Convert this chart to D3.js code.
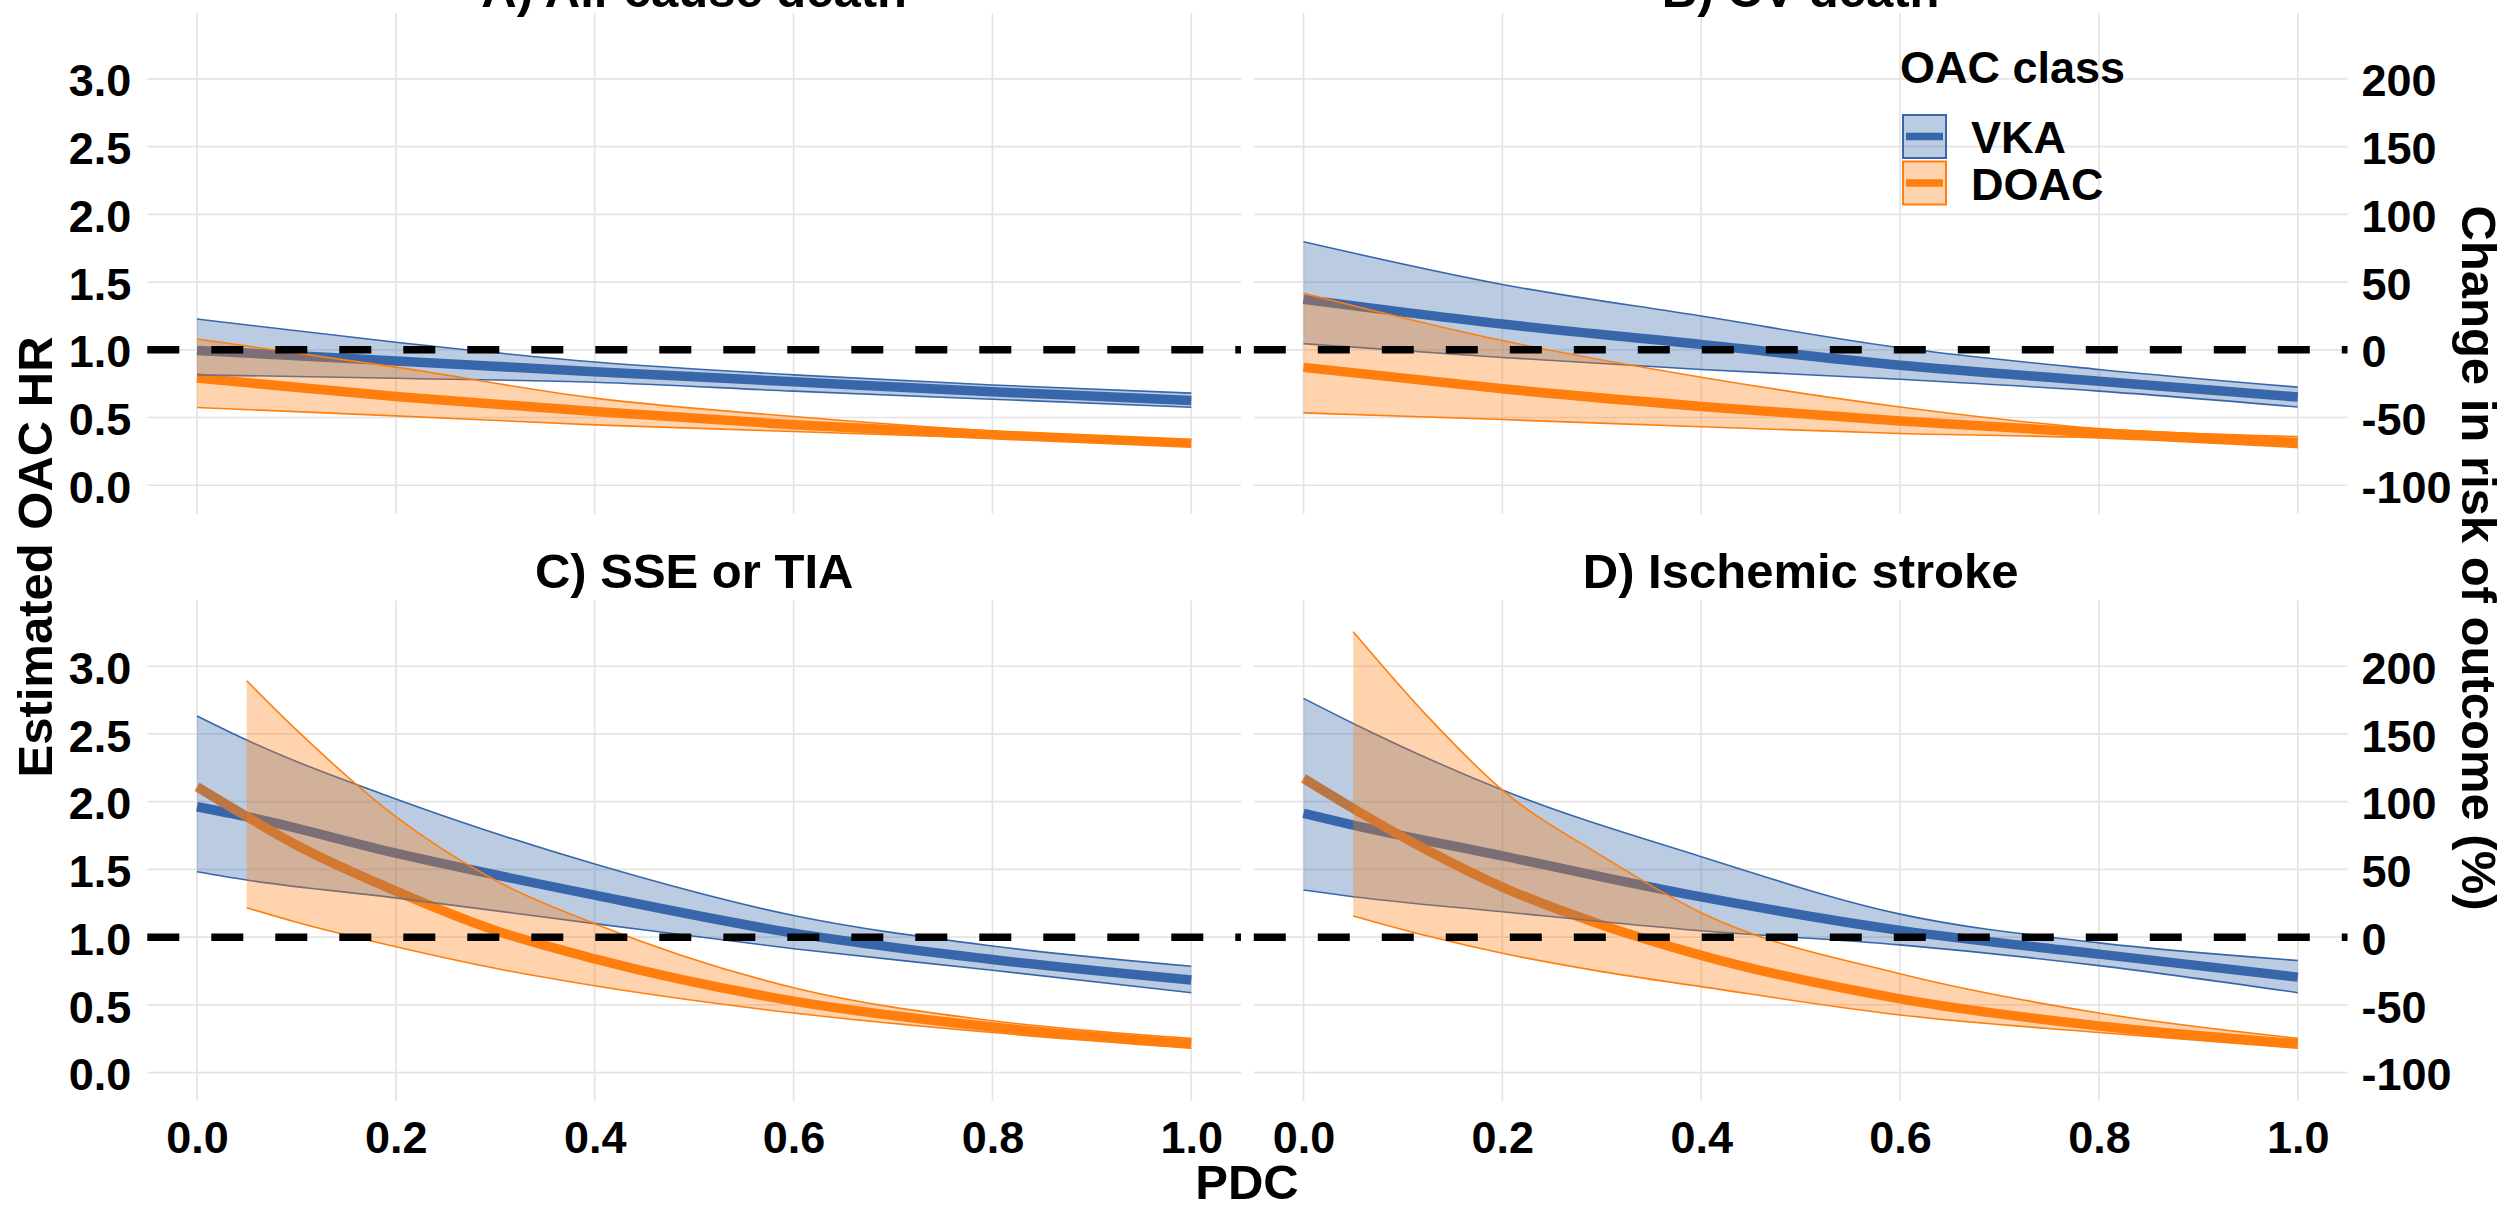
<!DOCTYPE html>
<html><head><meta charset="utf-8">
<script src="https://cdn.jsdelivr.net/npm/d3@7"></script>
<style>html,body{margin:0;padding:0;background:#fff;overflow:hidden}</style>
</head><body>
<svg id="chart" width="2505" height="1211"></svg>
<script>
// ---------------- data ----------------
const facetTitles = ["A) All-cause death", "B) CV death", "C) SSE or TIA", "D) Ischemic stroke"];
const classes = ["VKA", "DOAC"];
const pdcTicks = [0, 0.2, 0.4, 0.6, 0.8, 1.0];
const hrTicks = [0, 0.5, 1.0, 1.5, 2.0, 2.5, 3.0];
const pctTickLabels = ["-100", "-50", "0", "50", "100", "150", "200"];
const referenceHR = 1.0;

// A) All-cause death
const pdcA = [0, 0.2, 0.4, 0.6, 0.8, 1.0];
const vkaEstA = [0.995, 0.918, 0.838, 0.764, 0.690, 0.626];
const vkaLoA  = [0.815, 0.790, 0.760, 0.695, 0.635, 0.576];
const vkaHiA  = [1.227, 1.055, 0.910, 0.815, 0.740, 0.680];
const doacEstA = [0.791, 0.655, 0.544, 0.446, 0.372, 0.310];
const doacLoA  = [0.574, 0.512, 0.446, 0.397, 0.347, 0.286];
const doacHiA  = [1.080, 0.872, 0.643, 0.507, 0.400, 0.336];

// B) CV death
const pdcB = [0, 0.2, 0.4, 0.6, 0.8, 1.0];
const vkaEstB = [1.372, 1.190, 1.040, 0.886, 0.768, 0.651];
const vkaLoB  = [1.045, 0.943, 0.855, 0.782, 0.695, 0.578];
const vkaHiB  = [1.797, 1.482, 1.249, 1.015, 0.855, 0.724];
const doacEstB = [0.870, 0.712, 0.582, 0.474, 0.386, 0.315];
const doacLoB  = [0.534, 0.485, 0.432, 0.382, 0.350, 0.278];
const doacHiB  = [1.418, 1.068, 0.797, 0.578, 0.418, 0.360];

// C) SSE or TIA
const pdcVkaC = [0, 0.05, 0.2, 0.4, 0.6, 0.8, 1.0];
const vkaEstC = [1.963, 1.890, 1.620, 1.310, 1.030, 0.835, 0.684];
const vkaLoC  = [1.483, 1.422, 1.290, 1.100, 0.915, 0.756, 0.590];
const vkaHiC  = [2.633, 2.455, 2.020, 1.540, 1.160, 0.935, 0.785];
const pdcDoacLineC = [0, 0.05, 0.1, 0.2, 0.3, 0.4, 0.6, 0.8, 1.0];
const doacEstC = [2.110, 1.890, 1.680, 1.340, 1.050, 0.840, 0.528, 0.337, 0.213];
const pdcDoacBandC = [0.05, 0.1, 0.2, 0.3, 0.4, 0.6, 0.8, 1.0];
const doacLoC = [1.217, 1.110, 0.929, 0.770, 0.641, 0.440, 0.296, 0.181];
const doacHiC = [2.893, 2.530, 1.890, 1.420, 1.100, 0.627, 0.383, 0.253];

// D) Ischemic stroke
const pdcVkaD = [0, 0.05, 0.2, 0.4, 0.6, 0.8, 1.0];
const vkaEstD = [1.914, 1.828, 1.600, 1.297, 1.050, 0.875, 0.705];
const vkaLoD  = [1.348, 1.299, 1.188, 1.047, 0.943, 0.790, 0.590];
const vkaHiD  = [2.763, 2.578, 2.086, 1.594, 1.170, 0.958, 0.828];
const pdcDoacLineD = [0, 0.05, 0.125, 0.2, 0.3, 0.4, 0.6, 0.8, 1.0];
const doacEstD = [2.172, 1.950, 1.640, 1.370, 1.090, 0.866, 0.545, 0.345, 0.214];
const pdcDoacBandD = [0.05, 0.125, 0.2, 0.3, 0.4, 0.6, 0.8, 1.0];
const doacLoD = [1.157, 1.008, 0.881, 0.746, 0.635, 0.426, 0.296, 0.181];
const doacHiD = [3.255, 2.628, 2.086, 1.600, 1.180, 0.730, 0.440, 0.253];

// ---------------- build ----------------
function band(pdc, lo, hi) { return pdc.map((p, i) => ({p, lo: lo[i], hi: hi[i]})); }
function line(pdc, est) { return pdc.map((p, i) => ({p, v: est[i]})); }

const facets = [
  {title: facetTitles[0], col: 0, row: 0,
   series: [
     {cls: "VKA", line: line(pdcA, vkaEstA), band: band(pdcA, vkaLoA, vkaHiA)},
     {cls: "DOAC", line: line(pdcA, doacEstA), band: band(pdcA, doacLoA, doacHiA)}]},
  {title: facetTitles[1], col: 1, row: 0,
   series: [
     {cls: "VKA", line: line(pdcB, vkaEstB), band: band(pdcB, vkaLoB, vkaHiB)},
     {cls: "DOAC", line: line(pdcB, doacEstB), band: band(pdcB, doacLoB, doacHiB)}]},
  {title: facetTitles[2], col: 0, row: 1,
   series: [
     {cls: "VKA", line: line(pdcVkaC, vkaEstC), band: band(pdcVkaC, vkaLoC, vkaHiC)},
     {cls: "DOAC", line: line(pdcDoacLineC, doacEstC), band: band(pdcDoacBandC, doacLoC, doacHiC)}]},
  {title: facetTitles[3], col: 1, row: 1,
   series: [
     {cls: "VKA", line: line(pdcVkaD, vkaEstD), band: band(pdcVkaD, vkaLoD, vkaHiD)},
     {cls: "DOAC", line: line(pdcDoacLineD, doacEstD), band: band(pdcDoacBandD, doacLoD, doacHiD)}]}
];

const color = d3.scaleOrdinal().domain(classes).range(["#3767AB", "#FF7F0E"]);
const FILL_ALPHA = 0.34;
const FONT = "'Liberation Sans', Arial, Helvetica, sans-serif";

const colRanges = [[147.3, 1241.0], [1253.8, 2347.5]];
const rowRanges = [[513.7, 13.0], [1101.1, 600.4]];
const xDomain = [-0.05, 1.05];
const yDomain = [-0.21, 3.486];

const svg = d3.select("#chart");
svg.append("rect").attr("width", 2505).attr("height", 1211).attr("fill", "#fff");

facets.forEach(f => {
  const x = d3.scaleLinear().domain(xDomain).range(colRanges[f.col]);
  const y = d3.scaleLinear().domain(yDomain).range(rowRanges[f.row]);
  const g = svg.append("g");
  const [x0, x1] = colRanges[f.col];
  const [yb, yt] = rowRanges[f.row];

  // grid
  g.selectAll(".hg").data(hrTicks).join("line")
    .attr("x1", x0).attr("x2", x1).attr("y1", d => y(d)).attr("y2", d => y(d))
    .attr("stroke", "#e4e4e4").attr("stroke-width", 1.7);
  g.selectAll(".vg").data(pdcTicks).join("line")
    .attr("x1", d => x(d)).attr("x2", d => x(d)).attr("y1", yb).attr("y2", yt)
    .attr("stroke", "#e4e4e4").attr("stroke-width", 1.7);

  const lineGen = d3.line().x(d => x(d.p)).y(d => y(d.v)).curve(d3.curveMonotoneX);
  const areaGen = d3.area().x(d => x(d.p)).y0(d => y(d.lo)).y1(d => y(d.hi)).curve(d3.curveMonotoneX);
  const loGen = d3.line().x(d => x(d.p)).y(d => y(d.lo)).curve(d3.curveMonotoneX);
  const hiGen = d3.line().x(d => x(d.p)).y(d => y(d.hi)).curve(d3.curveMonotoneX);

  // estimate lines first
  f.series.forEach(s => {
    g.append("path").attr("d", lineGen(s.line)).attr("fill", "none")
      .attr("stroke", color(s.cls)).attr("stroke-width", 9.5).attr("stroke-linejoin", "round");
  });
  // ribbons on top (semi-transparent) with outline
  f.series.forEach(s => {
    g.append("path").attr("d", areaGen(s.band)).attr("fill", color(s.cls)).attr("fill-opacity", FILL_ALPHA);
    g.append("path").attr("d", loGen(s.band)).attr("fill", "none").attr("stroke", color(s.cls)).attr("stroke-width", 1.6);
    g.append("path").attr("d", hiGen(s.band)).attr("fill", "none").attr("stroke", color(s.cls)).attr("stroke-width", 1.6);
  });
  // reference line
  g.append("line").attr("x1", x0).attr("x2", x1).attr("y1", y(referenceHR)).attr("y2", y(referenceHR))
    .attr("stroke", "#000").attr("stroke-width", 7.5).attr("stroke-dasharray", "32,32");

  // facet title
  svg.append("text").attr("x", (x0 + x1) / 2).attr("y", f.row === 0 ? 7 : 588)
    .attr("text-anchor", "middle").attr("font-family", FONT).attr("font-weight", "bold")
    .attr("font-size", 49).attr("fill", "#000").text(f.title);

  // axes
  if (f.col === 0) {
    const ax = svg.append("g").attr("transform", `translate(${x0},0)`)
      .call(d3.axisLeft(y).tickValues(hrTicks).tickFormat(d3.format(".1f")).tickSize(0).tickPadding(16));
    ax.select(".domain").remove();
    ax.selectAll("text").attr("font-family", FONT).attr("font-weight", "bold").attr("font-size", 45)
      .attr("fill", "#000").attr("dy", "0.38em");
  }
  if (f.col === 1) {
    const ax = svg.append("g").attr("transform", `translate(${x1},0)`)
      .call(d3.axisRight(y).tickValues(hrTicks).tickFormat((d, i) => pctTickLabels[i]).tickSize(0).tickPadding(14));
    ax.select(".domain").remove();
    ax.selectAll("text").attr("font-family", FONT).attr("font-weight", "bold").attr("font-size", 45)
      .attr("fill", "#000").attr("dy", "0.38em");
  }
  if (f.row === 1) {
    const ax = svg.append("g").attr("transform", `translate(0,${yb})`)
      .call(d3.axisBottom(x).tickValues(pdcTicks).tickFormat(d3.format(".1f")).tickSize(0).tickPadding(20));
    ax.select(".domain").remove();
    ax.selectAll("text").attr("font-family", FONT).attr("font-weight", "bold").attr("font-size", 45)
      .attr("fill", "#000").attr("dy", "0.71em");
  }
});

// axis titles
svg.append("text").attr("transform", "translate(52,557) rotate(-90)").attr("text-anchor", "middle")
  .attr("font-family", FONT).attr("font-weight", "bold").attr("font-size", 49).text("Estimated OAC HR");
svg.append("text").attr("transform", "translate(2462,558) rotate(90)").attr("text-anchor", "middle")
  .attr("font-family", FONT).attr("font-weight", "bold").attr("font-size", 49).text("Change in risk of outcome (%)");
svg.append("text").attr("x", 1247).attr("y", 1199).attr("text-anchor", "middle")
  .attr("font-family", FONT).attr("font-weight", "bold").attr("font-size", 49).text("PDC");

// legend
const leg = svg.append("g");
leg.append("text").attr("x", 1900).attr("y", 83).attr("font-family", FONT).attr("font-weight", "bold")
  .attr("font-size", 45).text("OAC class");
classes.forEach((c, i) => {
  const ky = 114 + i * 46.5;
  leg.append("rect").attr("x", 1903).attr("y", ky + 1).attr("width", 43).attr("height", 43)
    .attr("fill", color(c)).attr("fill-opacity", FILL_ALPHA).attr("stroke", color(c)).attr("stroke-width", 2);
  leg.append("line").attr("x1", 1906).attr("x2", 1943).attr("y1", ky + 22.5).attr("y2", ky + 22.5)
    .attr("stroke", color(c)).attr("stroke-width", 7.5);
  leg.append("text").attr("x", 1971).attr("y", ky + 39).attr("font-family", FONT).attr("font-weight", "bold")
    .attr("font-size", 45).text(c);
});
</script>
</body></html>
